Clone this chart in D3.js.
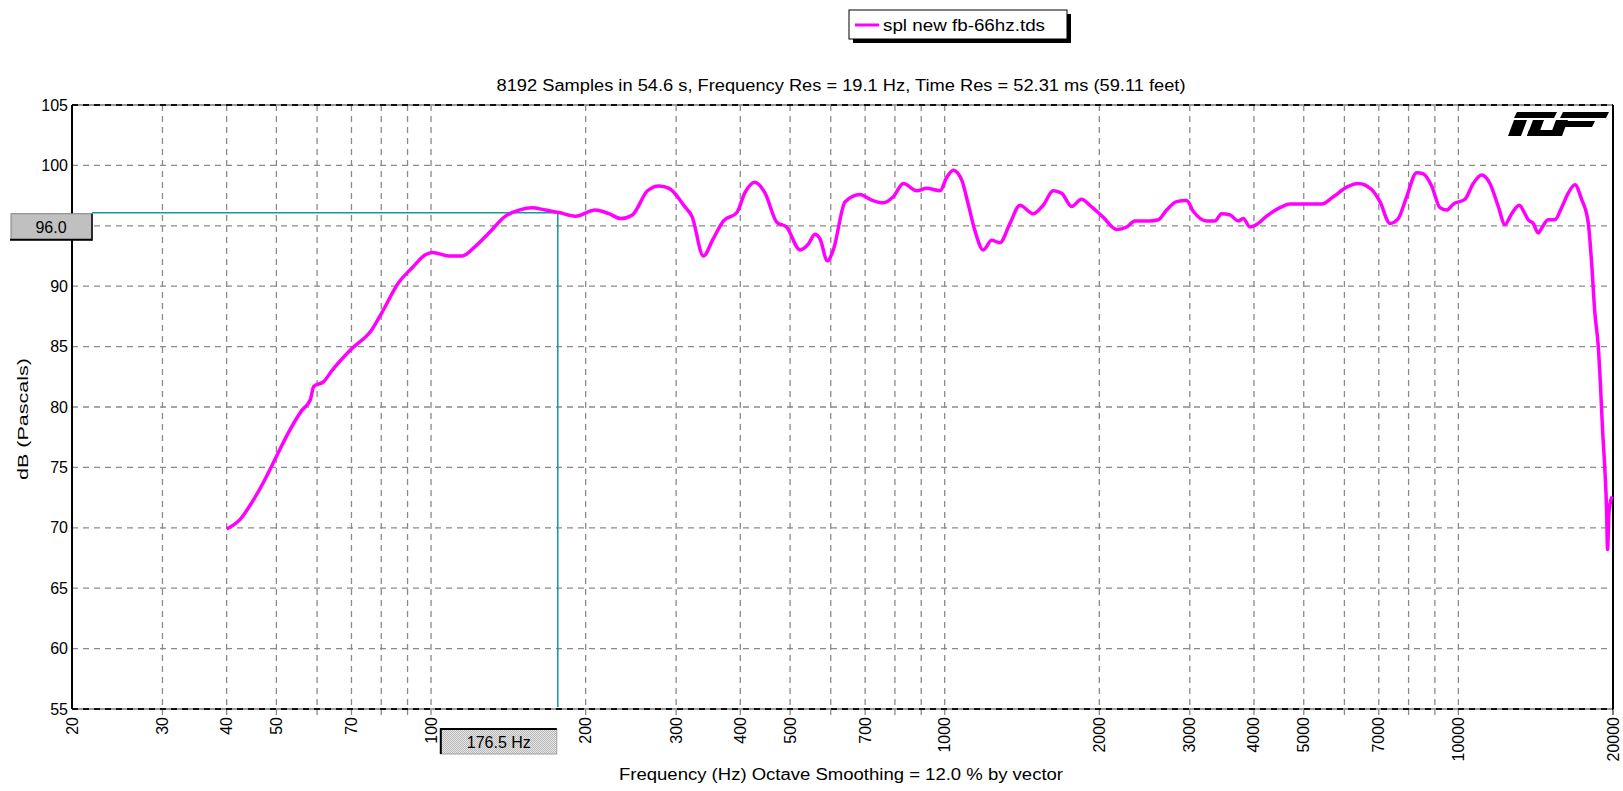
<!DOCTYPE html>
<html><head><meta charset="utf-8">
<script src="https://cdn.jsdelivr.net/npm/d3@7"></script>
<style>
html,body{margin:0;padding:0;background:#fff;}
svg{display:block;font-family:"Liberation Sans",Arial,sans-serif;}
</style></head>
<body><svg id="c" width="1623" height="791"></svg>
<script>
// ---- data ----
const freqs = [40,42.5,44.8,47.5,50,52.8,56,58.2,59.1,61.8,64.1,70,76.7,80.2,86.5,91.8,97.5,100.6,108.3,114.9,122,129.6,139.6,148.3,157.4,167,177.4,191,209,222,234,246.6,263.9,278,290.8,313,322,339,354,371,394,408,427,447,471,492,523,543,559,572,591,607,640,684,715,759,794,831,882,922,979,1009,1039,1079,1111,1145,1189,1234,1281,1340,1401,1487,1555,1626,1689,1766,1847,1917,2036,2162,2260,2346,2510,2605,2704,2828,2958,3047,3236,3357,3460,3592,3728,3812,3929,4078,4234,4494,4700,5064,5417,5708,6060,6384,6778,7036,7358,7638,7930,8294,8545,8871,9208,9490,9775,10298,10690,11100,11520,11958,12322,12697,13136,13474,13676,13986,14304,14522,14958,15414,15882,16362,16860,17374,17894,18168,18438,18716,18914,19086,19286,19432,19518,19636,19812,19926];
const splDb = [69.9,70.7,72.1,74.0,75.9,77.9,79.7,80.6,81.7,82.1,83.0,84.8,86.4,87.8,90.3,91.5,92.6,92.8,92.5,92.5,93.3,94.4,95.8,96.3,96.5,96.3,96.1,95.8,96.3,96.0,95.6,95.9,97.9,98.3,98.1,96.5,95.8,92.5,93.9,95.4,96.1,97.7,98.6,97.7,95.3,94.9,93.0,93.5,94.3,93.9,92.1,93.0,97.0,97.6,97.2,96.9,97.4,98.5,97.9,98.1,97.9,99.0,99.6,98.8,96.8,94.6,93.0,93.8,93.6,95.2,96.7,96.0,96.7,97.9,97.7,96.6,97.2,96.7,95.7,94.7,94.9,95.4,95.4,95.5,96.3,97.0,97.1,96.2,95.4,95.4,96.0,95.9,95.4,95.6,94.9,95.2,95.8,96.5,96.8,96.8,96.8,97.4,98.2,98.5,98.0,97.0,95.2,95.6,97.4,99.4,99.3,98.3,96.5,96.3,96.8,97.2,98.5,99.2,98.5,96.6,95.1,96.0,96.7,96.0,95.5,95.2,94.4,94.8,95.5,95.5,96.5,97.7,98.4,97.2,95.3,92.0,87.8,85.1,81.7,78.1,74.8,71.5,68.2,71.2,72.3,72.6];
const xGrid = [30,40,50,60,70,80,90,100,200,300,400,500,600,700,800,900,1000,2000,3000,4000,5000,6000,7000,8000,9000,10000];
const xTickLabels = [20,30,40,50,70,100,200,300,400,500,700,1000,2000,3000,4000,5000,7000,10000,20000];
const yTicks = [55,60,65,70,75,80,85,90,95,100,105];
const seriesName = "spl new fb-66hz.tds";
const titleText = "8192 Samples in 54.6 s, Frequency Res = 19.1 Hz, Time Res = 52.31 ms (59.11 feet)";
const xTitle = "Frequency (Hz) Octave Smoothing = 12.0 % by vector";
const yTitle = "dB (Pascals)";
const cursorFreq = 176.5, cursorDb = 96.0;

// ---- layout ----
const L = 72, R = 1613, T = 105, B = 709;
const svg = d3.select("#c");
const x = d3.scaleLog().domain([20,20000]).range([L,R]);
const y = d3.scaleLinear().domain([55,105]).range([B,T]);
const gridCol = "#8a8a8a";
const cx = x(cursorFreq), cy = y(cursorDb);

// grid
svg.append("g").selectAll("line").data(xGrid).join("line")
  .attr("x1",d=>x(d)).attr("x2",d=>x(d)).attr("y1",T).attr("y2",B+6)
  .attr("stroke",gridCol).attr("stroke-width",1.3).attr("stroke-dasharray","6,5");
svg.append("g").selectAll("line").data(yTicks.filter(d=>d>55&&d<105)).join("line")
  .attr("x1",L).attr("x2",R).attr("y1",d=>y(d)).attr("y2",d=>y(d))
  .attr("stroke",gridCol).attr("stroke-width",1.3).attr("stroke-dasharray","6,5");

// frame
[T,B].forEach(yy=>{
  svg.append("line").attr("x1",L).attr("x2",R).attr("y1",yy).attr("y2",yy).attr("stroke","#9a9a9a").attr("stroke-width",2);
  svg.append("line").attr("x1",L).attr("x2",R).attr("y1",yy).attr("y2",yy).attr("stroke","#111").attr("stroke-width",2).attr("stroke-dasharray","6,5");
});
svg.append("line").attr("x1",L).attr("x2",L).attr("y1",T).attr("y2",B).attr("stroke","#000").attr("stroke-width",2);
svg.append("line").attr("x1",R).attr("x2",R).attr("y1",T).attr("y2",B).attr("stroke","#000").attr("stroke-width",2);
svg.append("line").attr("x1",R).attr("x2",R).attr("y1",B).attr("y2",B+6).attr("stroke","#000").attr("stroke-width",1);

// y axis labels (the one under the cursor readout box is hidden, as in the original)
svg.append("g").selectAll("text").data(yTicks.filter(d=>Math.abs(y(d)-(cy+13))>14)).join("text")
  .attr("x",L-4).attr("y",d=>y(d)).attr("text-anchor","end").attr("dominant-baseline","central")
  .attr("font-size",16).attr("fill","#000").text(d=>d);

// x axis labels
svg.append("g").selectAll("text").data(xTickLabels).join("text")
  .attr("transform",d=>`translate(${x(d)},${B+8}) rotate(-90)`)
  .attr("text-anchor","end").attr("dominant-baseline","central")
  .attr("font-size",16).attr("fill","#000").text(d=>d);

// titles
svg.append("text").attr("x",841).attr("y",91).attr("text-anchor","middle").attr("font-size",16)
  .attr("textLength",689).attr("lengthAdjust","spacingAndGlyphs").text(titleText);
svg.append("text").attr("x",841).attr("y",780).attr("text-anchor","middle").attr("font-size",16)
  .attr("textLength",444).attr("lengthAdjust","spacingAndGlyphs").text(xTitle);
svg.append("text").attr("transform","translate(28,419) rotate(-90)").attr("text-anchor","middle").attr("font-size",15)
  .attr("textLength",122).attr("lengthAdjust","spacingAndGlyphs").text(yTitle);

// legend
svg.append("rect").attr("x",853).attr("y",14).attr("width",218).attr("height",29).attr("fill","#000");
svg.append("rect").attr("x",849).attr("y",10).attr("width",218).attr("height",29).attr("fill","#fff").attr("stroke","#000").attr("stroke-width",1);
svg.append("line").attr("x1",855).attr("x2",879).attr("y1",25).attr("y2",25).attr("stroke","#ff00ff").attr("stroke-width",3);
svg.append("text").attr("x",883).attr("y",25).attr("dominant-baseline","central").attr("font-size",16)
  .attr("textLength",162).attr("lengthAdjust","spacingAndGlyphs").text(seriesName);

// TCF logo (polygons)
const logo = svg.append("g").attr("fill","#000");
const para = (x0,y0,w,h,s)=>`${x0+s},${y0} ${x0+s+w},${y0} ${x0+w},${y0+h} ${x0},${y0+h}`;
[[1514,112,40,6,3],[1560,112,46,6,3],
 [1508,120,13,16,6],
 [1527,120,11,16,6],[1527,130,24,6,2],
 [1550,120,12,16,6],[1556,121,36,6,3]]
 .forEach(p=>logo.append("polygon").attr("points",para(...p)));

// cursor
const teal = "#129a9a";
svg.append("line").attr("x1",92).attr("x2",cx).attr("y1",cy-1).attr("y2",cy-1).attr("stroke",teal).attr("stroke-width",1.5);
svg.append("line").attr("x1",cx).attr("x2",cx).attr("y1",cy-1).attr("y2",B-2).attr("stroke",teal).attr("stroke-width",1.5);

// curve
const line = d3.line().x((d,i)=>x(freqs[i])).y(d=>y(d)).curve(d3.curveMonotoneX);
svg.append("path").attr("d",line(splDb)).attr("fill","none").attr("stroke","#ff00ff").attr("stroke-width",3.5).attr("stroke-linejoin","round");

// 96.0 box
svg.append("rect").attr("x",11).attr("y",cy).attr("width",81).attr("height",26).attr("fill","#c0c0c0").attr("stroke","#808080").attr("stroke-width",1);
svg.append("line").attr("x1",10).attr("x2",92).attr("y1",cy+26).attr("y2",cy+26).attr("stroke","#000").attr("stroke-width",2);
svg.append("line").attr("x1",92).attr("x2",92).attr("y1",cy).attr("y2",cy+27).attr("stroke","#000").attr("stroke-width",1.5);
svg.append("text").attr("x",51).attr("y",cy+14).attr("text-anchor","middle").attr("dominant-baseline","central").attr("font-size",16).text(cursorDb.toFixed(1));

// 176.5 Hz box
const defs = svg.append("defs");
const pat = defs.append("pattern").attr("id","dots").attr("width",2).attr("height",2).attr("patternUnits","userSpaceOnUse");
pat.append("rect").attr("width",2).attr("height",2).attr("fill","#e6e6e6");
pat.append("rect").attr("width",1).attr("height",1).attr("fill","#b8b8b8");
pat.append("rect").attr("x",1).attr("y",1).attr("width",1).attr("height",1).attr("fill","#b8b8b8");
const bx = cx-117;
svg.append("rect").attr("x",bx).attr("y",729).attr("width",116).attr("height",25).attr("fill","url(#dots)").attr("stroke","#a0a0a0").attr("stroke-width",1);
svg.append("polyline").attr("points",`${bx},754 ${bx},729 ${bx+116},729`).attr("fill","none").attr("stroke","#000").attr("stroke-width",2);
svg.append("text").attr("x",bx+58).attr("y",742).attr("text-anchor","middle").attr("dominant-baseline","central").attr("font-size",16).text(cursorFreq.toFixed(1)+" Hz");
</script></body></html>
